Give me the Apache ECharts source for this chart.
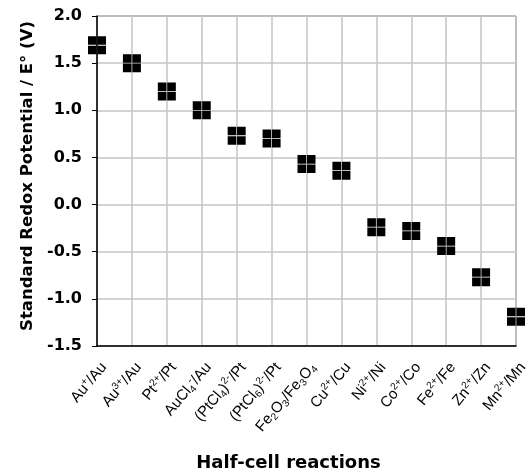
<!DOCTYPE html>
<html>
<head>
<meta charset="utf-8">
<script src="https://cdn.jsdelivr.net/npm/echarts@6/dist/echarts.min.js"></script>
<style>html,body{margin:0;padding:0;background:#fff}#c{width:531px;height:472px}</style>
</head>
<body>
<div id="c"></div>
<script>
var categories = ['Au+/Au','Au3+/Au','Pt2+/Pt','AuCl4-/Au','(PtCl4)2-/Pt','(PtCl6)2-/Pt','Fe2O3/Fe3O4','Cu2+/Cu','Ni2+/Ni','Co2+/Co','Fe2+/Fe','Zn2+/Zn','Mn2+/Mn'];
var categoryLabels = [
  '{n|Au}{sup|+}{n|/Au}',
  '{n|Au}{sup|3+}{n|/Au}',
  '{n|Pt}{sup|2+}{n|/Pt}',
  '{n|AuCl}{sub|4}{sup|-}{n|/Au}',
  '{n|(PtCl}{sub|4}{n|)}{sup|2-}{n|/Pt}',
  '{n|(PtCl}{sub|6}{n|)}{sup|2-}{n|/Pt}',
  '{n|Fe}{sub|2}{n|O}{sub|3}{n|/Fe}{sub|3}{n|O}{sub|4}',
  '{n|Cu}{sup|2+}{n|/Cu}',
  '{n|Ni}{sup|2+}{n|/Ni}',
  '{n|Co}{sup|2+}{n|/Co}',
  '{n|Fe}{sup|2+}{n|/Fe}',
  '{n|Zn}{sup|2+}{n|/Zn}',
  '{n|Mn}{sup|2+}{n|/Mn}'
];
var potentials = [1.69, 1.50, 1.20, 1.00, 0.73, 0.70, 0.43, 0.36, -0.24, -0.28, -0.44, -0.77, -1.19];
var yMin = -1.5, yMax = 2.0, yStep = 0.5;

var font = 'Liberation Sans, Arial, sans-serif';
var boldFont = 'DejaVu Sans, sans-serif';
var chart = echarts.init(document.getElementById('c'), null, {renderer: 'canvas'});
chart.setOption({
  animation: false,
  backgroundColor: '#fff',
  grid: {left: 97, right: 15, top: 16, bottom: 126, containLabel: false, outerBoundsMode: 'none',
         show: true, borderColor: '#555', borderWidth: 1, backgroundColor: 'transparent'},
  xAxis: {
    type: 'category',
    data: categories,
    boundaryGap: false,
    name: 'Half-cell reactions',
    nameLocation: 'middle',
    nameGap: 108,
    nameTextStyle: {fontFamily: boldFont, fontWeight: 'bold', fontSize: 18, color: '#000', padding: [0, 36, 0, 0]},
    axisLine: {show: true, onZero: false, lineStyle: {color: '#000', width: 1.5}},
    axisTick: {show: false},
    splitLine: {show: true, lineStyle: {color: '#c4c4c4', width: 1.5}},
    axisLabel: {
      interval: 0, rotate: 50, margin: 13, hideOverlap: false,
      align: 'right', verticalAlign: 'top',
      formatter: function (v, i) { return categoryLabels[i]; },
      rich: {
        n: {fontFamily: font, fontSize: 15, color: '#000', lineHeight: 18},
        sup: {fontFamily: font, fontSize: 10, color: '#000', lineHeight: 11, verticalAlign: 'top'},
        sub: {fontFamily: font, fontSize: 10, color: '#000', lineHeight: 11, verticalAlign: 'bottom'}
      }
    }
  },
  yAxis: {
    type: 'value',
    min: yMin, max: yMax, interval: yStep,
    name: 'Standard Redox Potential / E\u00b0 (V)',
    nameLocation: 'middle',
    nameGap: 60,
    nameTextStyle: {fontFamily: boldFont, fontWeight: 'bold', fontSize: 16.5, color: '#000', padding: [0, 0, 0, 10]},
    axisLine: {show: true, lineStyle: {color: '#000', width: 1.5}},
    axisTick: {show: true, length: 5, lineStyle: {color: '#000', width: 1}},
    splitLine: {show: true, lineStyle: {color: '#c4c4c4', width: 1.5}},
    axisLabel: {
      fontFamily: boldFont, fontWeight: 'bold', fontSize: 16, color: '#000', margin: 15,
      formatter: function (v) { return v.toFixed(1); }
    }
  },
  series: [{
    type: 'scatter',
    data: potentials,
    clip: false,
    symbol: 'path://M0,0H8.6V8.6H0Z M9.4,0H18V8.6H9.4Z M0,9.4H8.6V18H0Z M9.4,9.4H18V18H9.4Z',
    symbolSize: 18,
    itemStyle: {color: '#000', opacity: 1},
    z: 5
  }]
});
</script>
</body>
</html>
